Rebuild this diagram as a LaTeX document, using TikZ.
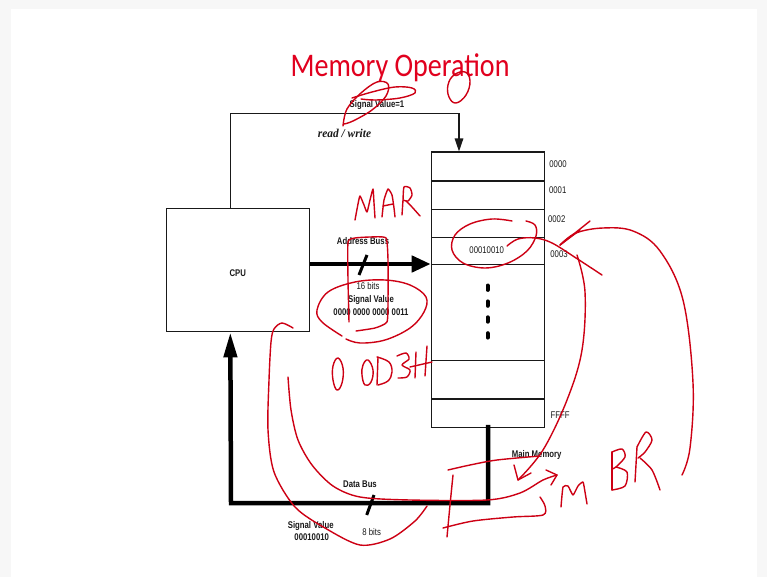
\documentclass[tikz,border=0pt]{standalone}
\usepackage{fontspec}
\setmainfont{Liberation Sans}
\newfontfamily\titlefont{Carlito}
\newfontfamily\serifface{Liberation Serif}
\usetikzlibrary{arrows.meta,calc}

\definecolor{ink}{RGB}{25,25,25}
\definecolor{pen}{RGB}{205,0,20}
\definecolor{titlered}{RGB}{225,0,30}
\definecolor{framegray}{RGB}{247,247,247}
\definecolor{paper}{RGB}{255,255,255}

% slightly condensed lettering, as on the slide
\newcommand{\nar}[1]{\scalebox{0.8}[1]{#1}}

\begin{document}
\begin{tikzpicture}[x=1pt,y=-1pt,
  lbl/.style={text=ink, font=\fontsize{9.7}{10}\selectfont\bfseries, inner sep=0pt},
  lblr/.style={text=ink, font=\fontsize{9.7}{10}\selectfont, inner sep=0pt},
  unit/.style={draw=ink, line width=1.4pt, minimum width=113.3pt, inner sep=0pt, anchor=north west},
  wire/.style={draw=ink, line width=1.3pt},
  bus/.style={draw=black, line width=4.5pt},
  tick/.style={draw=black, line width=3pt},
  annot/.style={draw=pen, line width=1.4pt, line cap=round, line join=round},
]
\useasboundingbox (0,0) rectangle (767,577);
\fill[framegray] (0,0) rectangle (767,577);
\fill[paper] (11,9) rectangle (757,577);

% title
\node[text=titlered, font=\titlefont\fontsize{33}{36}\selectfont, inner sep=0pt, anchor=base] (title) at (400,76.7) {\scalebox{0.85}[1]{Memory Operation}};

% CPU
\node[draw=ink, line width=1.4pt, minimum width=142.6pt, minimum height=123.4pt, inner sep=0pt] (cpu) at (238,270) {};
\node[lbl] (cpulbl) at (237.7,273) {\nar{CPU}};

% main memory cells
\node[unit, minimum height=28.8pt] (m0) at (430.7,151.5) {};
\node[unit, minimum height=28.4pt] (m1) at (430.7,180.3) {};
\node[unit, minimum height=28.3pt] (m2) at (430.7,208.7) {};
\node[unit, minimum height=27pt]   (m3) at (430.7,237) {};
\node[unit, minimum height=96pt]   (mgap) at (430.7,264) {};
\node[unit, minimum height=38.3pt] (mA) at (430.7,360) {};
\node[unit, minimum height=28.2pt] (mF) at (430.7,398.3) {};

\node[lblr] (d3) at (486.7,250) {\nar{00010010}};
\draw[black, line width=4pt, line cap=round, dash pattern=on 4.4pt off 11.5pt] (487.5,285.5) -- (487.5,339);

\node[lblr] (a0) at (558,164.3) {\nar{0000}};
\node[lblr] (a1) at (557.7,190) {\nar{0001}};
\node[lblr] (a2) at (556.7,218.7) {\nar{0002}};
\node[lblr] (a3) at (559,254) {\nar{0003}};
\node[lblr] (aF) at (560,415) {\nar{FFFF}};
\node[lbl] (mml) at (536.7,455) {\nar{Main Memory}};

% read / write control line
\coordinate (rwc) at (459,113.3);
\draw[wire, -{Triangle[length=13pt,width=8.5pt]}] ([xshift=64.3pt]cpu.north west) |- (rwc) -- ([xshift=28.3pt]m0.north west);
\node[lbl] (sv1) at (377,105) {\nar{Signal Value=1}};
\node[text=ink, font=\serifface\bfseries\itshape\fontsize{12}{13}\selectfont, inner sep=0pt] (rw) at (344.5,133) {\scalebox{0.95}[1]{read / write}};

% address bus
\coordinate (ab0) at ([yshift=6pt]cpu.east);
\draw[bus, -{Triangle[length=19pt,width=16pt]}] (ab0) -- (ab0 -| m3.west);
\draw[tick] (359,275) -- (367,255);
\node[lbl] (abl) at (363,240.7) {\nar{Address Buss}};
\node[lblr] (ab16) at (368,285.7) {\nar{16 bits}};
\node[lbl] (absv) at (371,300) {\nar{Signal Value}};
\node[lbl] (abval) at (371,311.7) {\nar{0000 0000 0000 0011}};

% data bus
\coordinate (dbc) at (231,503);
\draw[bus, -{Triangle[length=25pt,width=13pt]}] ([yshift=3pt]mF.south) |- (dbc) -- ([xshift=64.3pt]cpu.south west);
\draw[tick] (366.7,515) -- (374,495);
\node[lbl] (dbl) at (360,484.3) {\nar{Data Bus}};
\node[lblr] (db8) at (371.7,531.7) {\nar{8 bits}};
\node[lbl] (dbsv) at (310.7,526) {\nar{Signal Value}};
\node[lbl] (dbval) at (311.7,537.3) {\nar{00010010}};

% ---- hand-drawn pen marks ----
% scribble over the signal value and the 0 beside it
\draw[annot] plot[smooth, tension=0.6] coordinates {(343,126) (347,109) (361,93) (377,82) (388,84) (386,96) (372,110) (353,121) (344,124)};
\draw[annot] plot[smooth, tension=0.6] coordinates {(352,98) (372,92) (395,87) (412,88) (415,93) (400,98) (376,100) (361,99)};
\draw[annot] plot[smooth cycle, tension=0.7] coordinates {(454,75) (465,72) (470,81) (466,95) (456,103) (449,97) (448,85)};

% MAR
\draw[annot] plot[smooth, tension=0.3] coordinates {(355,220) (358,204) (360,196) (364,205) (367,212) (370,200) (373,189) (374,203) (375,218)};
\draw[annot] plot[smooth, tension=0.3] coordinates {(382,217) (384,200) (388,189) (392,195) (394,208) (395,217)};
\draw[annot] (383,206) -- (393,204);
\draw[annot] plot[smooth, tension=0.4] coordinates {(402,215) (403,200) (404,187) (410,188) (412,195) (408,201) (403,200)};
\draw[annot] plot[smooth, tension=0.4] coordinates {(406,201) (412,207) (420,216)};
\draw[annot] plot[smooth, tension=0.3] coordinates {(349,322) (348,280) (348,242) (355,238) (370,237) (386,238) (388,260) (388,300) (387,322) (375,328) (356,331)};

% ring round the address value
\draw[annot] plot[smooth, tension=0.6] coordinates {(342,336) (322,322) (317,310) (328,292) (355,282) (385,280) (410,285) (426,297) (424,312) (410,328) (385,340) (360,343) (346,339)};

% 0 003H
\draw[annot] plot[smooth cycle, tension=0.7] coordinates {(338,358) (343,368) (342,383) (337,390) (333,380) (333,366)};
\draw[annot] plot[smooth cycle, tension=0.7] coordinates {(368,360) (373,370) (371,382) (365,385) (362,375) (363,365)};
\draw[annot] (378,357) -- (377,385);
\draw[annot] plot[smooth, tension=0.6] coordinates {(377,357) (389,362) (392,372) (388,381) (378,385)};
\draw[annot] plot[smooth, tension=0.5] coordinates {(397,356) (406,353) (409,359) (402,365) (410,370) (407,377) (398,378)};
\draw[annot] (416,352) -- (415,378);
\draw[annot] (427,346) -- (425,376);
\draw[annot] (410,367) -- (432,362);

% ring round the stored word, with its tail
\draw[annot] plot[smooth, tension=0.6] coordinates {(526,221) (535,225) (536,236) (527,251) (508,263) (485,268) (463,263) (452,250) (455,235) (470,224) (492,219) (512,221)};
\draw[annot] plot[smooth, tension=0.6] coordinates {(507,246) (518,239) (535,238) (552,243) (576,258) (602,275)};

% long stroke from the word down to the buffer
\draw[annot] plot[smooth, tension=0.6] coordinates {(577,255) (585,292) (582,350) (567,400) (543,450) (518,480)};
\draw[annot] (514,465) -- (518,480) -- (531,473);

% arc on the right, arrow into the word
\draw[annot] plot[smooth, tension=0.6] coordinates {(560,245) (576,233) (603,228) (633,231) (660,251) (683,300) (693,383) (690,448) (682,475)};
\draw[annot] (560,245) -- (590,221);
\draw[annot] (560,245) -- (580,230);

% loops along the data bus
\draw[annot] plot[smooth, tension=0.5] coordinates {(293,328) (282,323) (274,329) (271,342) (269,380) (268,430) (274,472) (295,507) (325,528) (360,545) (390,539) (415,521) (427,506)};
\draw[annot] plot[smooth, tension=0.5] coordinates {(288,377) (291,410) (298,440) (312,465) (333,486) (360,497) (410,500) (487,500) (520,493) (543,480) (557,475)};
\draw[annot] (546,470) -- (557,475) -- (551,485);

% MBR and its bracket
\draw[annot] plot[smooth, tension=0.5] coordinates {(448,470) (470,465) (497,460) (540,456)};
\draw[annot] plot[smooth, tension=0.4] coordinates {(453,475) (450,505) (447,537)};
\draw[annot] plot[smooth, tension=0.5] coordinates {(443,528) (473,521) (513,517) (543,515) (545,506) (540,497)};
\draw[annot] plot[smooth, tension=0.3] coordinates {(561,507) (563,487) (568,486) (573,495) (578,486) (583,482) (585,492) (587,504)};
\draw[annot] (612,490) -- (612,452);
\draw[annot] plot[smooth, tension=0.5] coordinates {(612,452) (622,449) (625,457) (616,467) (612,469)};
\draw[annot] plot[smooth, tension=0.5] coordinates {(616,467) (627,472) (625,486) (612,490)};
\draw[annot] (635,482) -- (637,447);
\draw[annot] plot[smooth, tension=0.5] coordinates {(637,447) (646,432) (652,440) (645,452) (638,458)};
\draw[annot] plot[smooth, tension=0.5] coordinates {(640,458) (652,470) (660,490)};
\end{tikzpicture}
\end{document}
